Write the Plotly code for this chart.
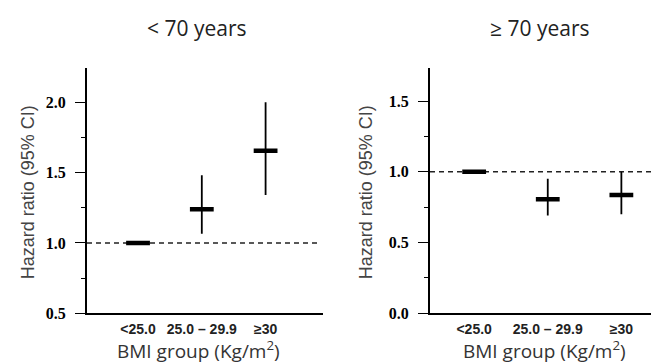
import plotly.graph_objects as go

categories = ["<25.0", "25.0 – 29.9", "≥30"]

# < 70 years
hr_young = [1.0, 1.24, 1.655]
ci_low_young = [1.0, 1.065, 1.34]
ci_high_young = [1.0, 1.48, 2.0]

# >= 70 years
hr_old = [1.0, 0.805, 0.835]
ci_low_old = [1.0, 0.69, 0.70]
ci_high_old = [1.0, 0.95, 1.0]

reference_hr = 1.0

W, H = 659, 363
def px_x(p):
    return p / W
def px_y(p):
    return 1 - p / H

fig = go.Figure()

def add_panel(hr, lo, hi, xa, ya):
    fig.add_trace(go.Scatter(
        x=categories, y=hr, mode="markers",
        xaxis=xa, yaxis=ya,
        marker=dict(symbol="line-ew", size=17, color="black",
                    line=dict(width=4.5, color="black")),
        error_y=dict(type="data", symmetric=False,
                     array=[h - v for h, v in zip(hi, hr)],
                     arrayminus=[v - l for v, l in zip(hr, lo)],
                     width=0, thickness=1.8, color="black"),
        showlegend=False, hoverinfo="skip",
    ))

add_panel(hr_young, ci_low_young, ci_high_young, "x", "y")
add_panel(hr_old, ci_low_old, ci_high_old, "x2", "y2")

tickfont = dict(family="Liberation Serif", size=16, color="black", weight="bold")
common_x = dict(type="category", showline=True, linecolor="black", linewidth=2,
                ticks="", showgrid=False, zeroline=False, ticklabelstandoff=2,
                tickfont=dict(family="Liberation Sans", size=14, color="#222", weight="bold"))
common_y = dict(showline=True, linecolor="black", linewidth=2, ticks="outside",
                ticklen=10, tickwidth=1, tickcolor="black", showgrid=False,
                zeroline=False, tickfont=tickfont, dtick=0.5, tickformat=".1f",
                ticklabelstandoff=6,
                minor=dict(dtick=0.25, ticks="outside", ticklen=4, tickcolor="black", tickwidth=1))

fig.update_layout(
    width=W, height=H,
    margin=dict(l=0, r=0, t=0, b=0),
    plot_bgcolor="white", paper_bgcolor="white",
    xaxis=dict(domain=[px_x(79), px_x(315)], anchor="y", range=[-0.8, 2.9], **common_x),
    yaxis=dict(domain=[px_y(313), px_y(62)], anchor="x", range=[0.5, 2.24], tick0=0.5, **common_y),
    xaxis2=dict(domain=[px_x(422), 1.0], anchor="y2", range=[-0.6, 2.62], **common_x),
    yaxis2=dict(domain=[px_y(313), px_y(62)], anchor="x2", range=[0.0, 1.73], tick0=0.0, **common_y),
)

for xa in ["x", "x2"]:
    fig.add_shape(type="line", xref=f"{xa} domain", yref=xa.replace("x", "y"),
                  x0=0, x1=0.98 if xa == "x" else 1.0, y0=reference_hr, y1=reference_hr,
                  line=dict(color="#222", width=1.5, dash="5px,4px"), layer="below")

title_font = dict(family="Open Sans", size=21, color="#222")
label_font = dict(family="Open Sans", size=19, color="#333")
ylab_font = dict(family="Liberation Sans", size=18, color="#444")

ann = [
    dict(text="< 70 years", x=px_x(189), y=px_y(20), font=title_font),
    dict(text="≥ 70 years", x=px_x(532), y=px_y(20), font=title_font),
    dict(text="BMI group (Kg/m<sup>2</sup>)", x=px_x(190), y=px_y(351), font=label_font),
    dict(text="BMI group (Kg/m<sup>2</sup>)", x=px_x(536), y=px_y(351), font=label_font),
    dict(text="Hazard ratio (95% CI)", x=px_x(20), y=px_y(189), font=ylab_font, textangle=-90),
    dict(text="Hazard ratio (95% CI)", x=px_x(358), y=px_y(189), font=ylab_font, textangle=-90),
]
for a in ann:
    fig.add_annotation(xref="paper", yref="paper", showarrow=False,
                       xanchor="center", yanchor="middle", **a)

fig.write_html("out.html")
